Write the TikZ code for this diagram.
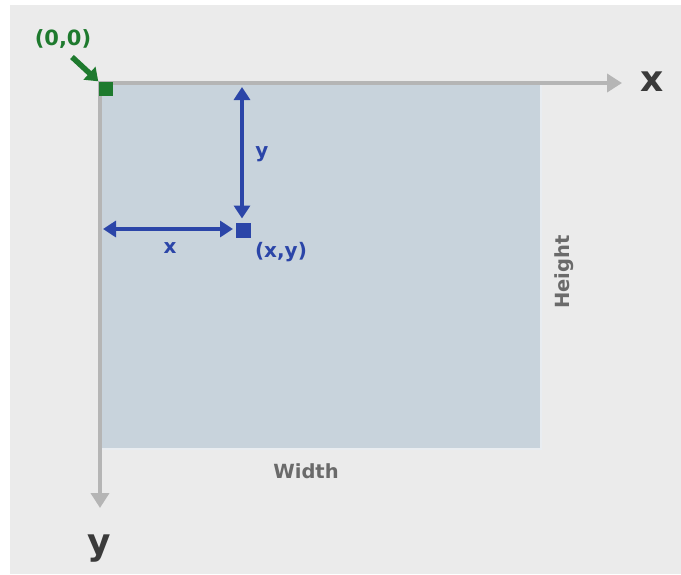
\documentclass[tikz,border=0pt]{standalone}
\usepackage{fontspec}
\setmainfont{DejaVu Sans}
\usetikzlibrary{arrows.meta}
\definecolor{bgc}{HTML}{EBEBEB}
\definecolor{rectc}{HTML}{C8D3DC}
\definecolor{axisc}{HTML}{B5B5B5}
\definecolor{bluec}{HTML}{2B45A8}
\definecolor{greenc}{HTML}{1E7A2E}
\definecolor{labc}{HTML}{3A3A3A}
\definecolor{txtc}{HTML}{6A6A6A}
\begin{document}
\begin{tikzpicture}[x=1pt,y=-1pt,
  axisline/.style={draw=axisc, line width=4.5pt, -{Triangle[length=15pt,width=18pt]}},
  barrow/.style={draw=bluec, line width=4.5pt, {Triangle[length=13pt,width=16pt]}-{Triangle[length=13pt,width=16pt]}},
  garrow/.style={draw=greenc, line width=5.5pt, -{Triangle[length=12pt,width=17pt]}},
  bigax/.style={text=labc, font=\fontsize{36}{42}\selectfont\bfseries, inner sep=0pt},
  dimlab/.style={text=txtc, font=\fontsize{19.5}{22}\selectfont\bfseries, inner sep=0pt},
  bluelab/.style={text=bluec, font=\fontsize{20}{23}\selectfont\bfseries, inner sep=0pt},
  greenlab/.style={text=greenc, font=\fontsize{21}{24}\selectfont\bfseries, inner sep=0pt},
  marker/.style={minimum size=#1, inner sep=0pt, outer sep=0pt}
]
\useasboundingbox (0,0) rectangle (681,574);
\fill[white] (0,0) rectangle (681,574);
\fill[bgc] (10,5) rectangle (681,574);
% canvas rectangle
\fill[rectc] (100,83) rectangle (540,448);
\draw[white!60!rectc, line width=1.5pt] (540.75,83) -- (540.75,448.75) -- (100,448.75);
% axes
\coordinate (O) at (100,83);
\coordinate (xe) at (622,83);
\coordinate (ye) at (100,508);
\draw[axisline] (97.75,83) -- (xe);
\draw[axisline] (O) -- (ye);
\node[bigax] (xlab) at (652,82) {x};
\node[bigax] (ylab) at (99,549) {y};
% origin
\node[marker=14pt, fill=greenc] (org) at (106,89) {};
\node[greenlab] (orglab) at (63,39) {(0,0)};
\coordinate (gtail) at (72,57);
\draw[garrow, shorten >=1pt] (gtail) -- (org.north west);
% point
\node[marker=15pt, fill=bluec] (pt) at (243,230) {};
\coordinate (vtop) at (242,87);
\coordinate (hleft) at (103,229);
\draw[barrow, shorten >=4pt] (vtop) -- (vtop |- pt.north);
\draw[barrow, shorten >=2.5pt] (hleft) -- (hleft -| pt.west);
\node[bluelab] (ylbl) at (262,154) {y};
\node[bluelab] (xlbl) at (170,248) {x};
\node[bluelab] (ptlab) at (281,252) {(x,y)};
% dimensions
\node[dimlab] (wlab) at (306,471) {Width};
\node[dimlab, rotate=90] (hlab) at (564,272) {Height};
\end{tikzpicture}
\end{document}
